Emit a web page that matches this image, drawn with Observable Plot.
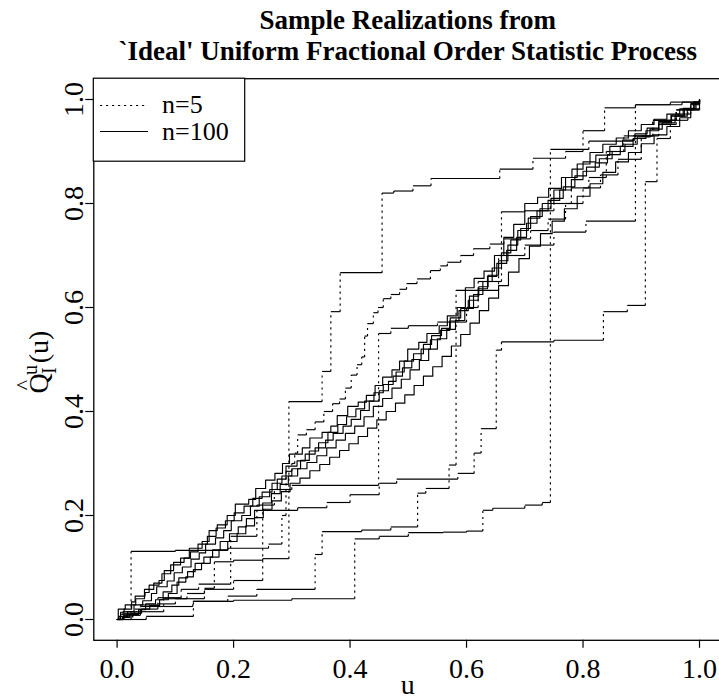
<!DOCTYPE html>
<html><head><meta charset="utf-8">
<script src="https://cdn.jsdelivr.net/npm/d3@7"></script>
<script src="https://cdn.jsdelivr.net/npm/@observablehq/plot@0.6"></script>
<style>body{margin:0;background:#fff} #chart{width:719px;height:700px}</style>
</head><body><div id="chart"></div>
<script>
const xTicks = [0, 0.2, 0.4, 0.6, 0.8, 1.0];
const yTicks = [0, 0.2, 0.4, 0.6, 0.8, 1.0];
const titleLines = ["Sample Realizations from", "`Ideal' Uniform Fractional Order Statistic Process"];
const legendLabels = ["n=5", "n=100"];

// n=5 realizations: [u, value after jump]
const n5A = [[0,0],[0.01,0.012],[0.04,0.025],[0.08,0.04],[0.12,0.05],[0.15,0.06],[0.167,0.111],[0.2,0.114],[0.25,0.117],[0.295,0.419],[0.352,0.477],[0.367,0.592],[0.383,0.667],[0.455,0.82],[0.475,0.824],[0.508,0.834],[0.539,0.848],[0.657,0.866],[0.714,0.887],[0.77,0.9],[0.8,0.94],[0.837,0.984],[0.89,0.99],[0.97,0.995],[1,1]];
const n5B = [[0,0],[0.024,0.131],[0.1,0.133],[0.19,0.137],[0.26,0.145],[0.283,0.2],[0.29,0.285],[0.3,0.3],[0.305,0.32],[0.31,0.355],[0.325,0.365],[0.34,0.38],[0.355,0.4],[0.37,0.415],[0.382,0.424],[0.392,0.445],[0.402,0.47],[0.412,0.49],[0.42,0.505],[0.425,0.545],[0.43,0.569],[0.44,0.59],[0.448,0.6],[0.457,0.617],[0.47,0.625],[0.485,0.635],[0.497,0.646],[0.515,0.655],[0.538,0.671],[0.555,0.68],[0.567,0.687],[0.59,0.7],[0.612,0.713],[0.64,0.722],[0.664,0.732],[0.71,0.748],[0.74,0.77],[0.77,0.8],[0.8,0.83],[0.83,0.855],[0.86,0.885],[0.9,0.93],[0.93,0.952],[0.96,0.972],[0.985,0.99],[1,1]];
const n5C = [[0,0],[0.01,0.015],[0.04,0.028],[0.07,0.042],[0.11,0.058],[0.14,0.068],[0.195,0.16],[0.24,0.22],[0.27,0.25],[0.3,0.258],[0.449,0.55],[0.47,0.56],[0.5,0.565],[0.55,0.572],[0.6,0.6],[0.62,0.65],[0.66,0.7],[0.7,0.72],[0.75,0.745],[0.805,0.766],[0.89,0.99],[0.95,0.995],[1,1]];
const n5D = [[0,0],[0.005,0.01],[0.03,0.02],[0.07,0.03],[0.1,0.04],[0.15,0.058],[0.2,0.075],[0.25,0.21],[0.31,0.215],[0.36,0.225],[0.4,0.24],[0.45,0.262],[0.48,0.27],[0.585,0.281],[0.613,0.32],[0.625,0.367],[0.651,0.518],[0.66,0.534],[0.75,0.537],[0.835,0.592],[0.876,0.604],[0.907,0.842],[0.927,0.925],[0.95,0.96],[0.98,0.98],[1,1]];
const n5E = [[0,0],[0.01,0.008],[0.04,0.015],[0.08,0.025],[0.13,0.035],[0.19,0.045],[0.24,0.058],[0.34,0.125],[0.352,0.169],[0.42,0.172],[0.47,0.178],[0.516,0.243],[0.53,0.252],[0.57,0.297],[0.582,0.633],[0.655,0.7],[0.66,0.784],[0.7,0.786],[0.75,0.8],[0.78,0.83],[0.81,0.85],[0.84,0.9],[0.87,0.93],[0.92,0.96],[0.96,0.98],[1,1]];
const n5F = [[0,0],[0.05,0.006],[0.131,0.035],[0.2,0.037],[0.3,0.04],[0.408,0.155],[0.45,0.16],[0.5,0.167],[0.56,0.168],[0.6,0.17],[0.628,0.21],[0.645,0.214],[0.7,0.22],[0.73,0.225],[0.744,0.904],[0.81,0.92],[0.886,0.93],[0.92,0.96],[0.96,0.98],[0.99,0.995],[1,1]];

// n=100 realizations
const n100A = [[0,0],[0.006,0.014],[0.012,0.02],[0.025,0.034],[0.031,0.045],[0.048,0.052],[0.055,0.066],[0.072,0.075],[0.081,0.094],[0.097,0.11],[0.115,0.118],[0.124,0.137],[0.146,0.15],[0.158,0.171],[0.172,0.182],[0.189,0.2],[0.203,0.222],[0.226,0.231],[0.238,0.252],[0.255,0.268],[0.271,0.281],[0.284,0.3],[0.296,0.318],[0.318,0.33],[0.331,0.349],[0.352,0.36],[0.367,0.372],[0.378,0.392],[0.396,0.41],[0.414,0.418],[0.428,0.431],[0.443,0.45],[0.456,0.466],[0.472,0.48],[0.485,0.497],[0.499,0.52],[0.518,0.533],[0.532,0.55],[0.553,0.565],[0.567,0.584],[0.584,0.6],[0.598,0.638],[0.613,0.656],[0.63,0.67],[0.648,0.7],[0.664,0.735],[0.681,0.76],[0.7,0.8],[0.722,0.812],[0.741,0.829],[0.763,0.85],[0.781,0.866],[0.8,0.88],[0.822,0.893],[0.846,0.91],[0.868,0.922],[0.889,0.934],[0.91,0.945],[0.93,0.958],[0.951,0.97],[0.972,0.983],[0.99,0.995],[1,1]];
const n100B = [[0,0],[0.003,0.006],[0.018,0.015],[0.029,0.028],[0.044,0.036],[0.059,0.05],[0.068,0.063],[0.086,0.074],[0.098,0.09],[0.112,0.101],[0.127,0.116],[0.141,0.128],[0.152,0.145],[0.169,0.157],[0.183,0.171],[0.196,0.19],[0.214,0.2],[0.229,0.218],[0.244,0.236],[0.262,0.25],[0.275,0.27],[0.29,0.295],[0.309,0.305],[0.323,0.318],[0.34,0.33],[0.358,0.345],[0.371,0.358],[0.388,0.372],[0.402,0.385],[0.418,0.402],[0.433,0.42],[0.45,0.44],[0.466,0.458],[0.479,0.476],[0.493,0.497],[0.509,0.511],[0.526,0.529],[0.54,0.546],[0.557,0.56],[0.572,0.58],[0.59,0.598],[0.605,0.622],[0.621,0.64],[0.637,0.662],[0.655,0.69],[0.671,0.72],[0.688,0.748],[0.706,0.772],[0.726,0.79],[0.745,0.81],[0.766,0.832],[0.786,0.853],[0.806,0.87],[0.828,0.886],[0.85,0.9],[0.872,0.914],[0.893,0.928],[0.915,0.943],[0.936,0.955],[0.958,0.968],[0.979,0.982],[0.994,0.994],[1,1]];
const n100C = [[0,0],[0.009,0.004],[0.021,0.01],[0.037,0.019],[0.049,0.03],[0.066,0.038],[0.079,0.053],[0.094,0.066],[0.106,0.08],[0.121,0.092],[0.134,0.108],[0.149,0.12],[0.164,0.134],[0.177,0.15],[0.193,0.165],[0.208,0.178],[0.222,0.194],[0.236,0.21],[0.25,0.224],[0.265,0.242],[0.28,0.26],[0.294,0.276],[0.31,0.29],[0.326,0.302],[0.343,0.315],[0.36,0.33],[0.376,0.345],[0.392,0.358],[0.408,0.372],[0.424,0.39],[0.44,0.41],[0.456,0.425],[0.472,0.445],[0.488,0.462],[0.503,0.48],[0.519,0.498],[0.535,0.52],[0.55,0.54],[0.566,0.558],[0.581,0.575],[0.597,0.598],[0.612,0.625],[0.628,0.65],[0.644,0.676],[0.66,0.705],[0.676,0.73],[0.693,0.752],[0.71,0.775],[0.73,0.8],[0.75,0.826],[0.77,0.85],[0.79,0.876],[0.812,0.898],[0.834,0.914],[0.857,0.926],[0.878,0.94],[0.9,0.952],[0.922,0.962],[0.944,0.972],[0.966,0.982],[0.985,0.992],[1,1]];
const n100D = [[0,0],[0.012,0.005],[0.027,0.012],[0.042,0.02],[0.056,0.027],[0.073,0.038],[0.088,0.05],[0.103,0.072],[0.118,0.082],[0.131,0.096],[0.145,0.108],[0.16,0.12],[0.175,0.134],[0.19,0.15],[0.206,0.165],[0.221,0.18],[0.236,0.196],[0.251,0.212],[0.266,0.228],[0.282,0.246],[0.297,0.262],[0.314,0.272],[0.331,0.286],[0.348,0.298],[0.365,0.312],[0.382,0.325],[0.398,0.338],[0.414,0.352],[0.43,0.368],[0.446,0.384],[0.462,0.4],[0.478,0.416],[0.494,0.432],[0.51,0.45],[0.526,0.468],[0.542,0.486],[0.558,0.506],[0.574,0.526],[0.59,0.548],[0.606,0.57],[0.622,0.594],[0.638,0.618],[0.655,0.642],[0.672,0.668],[0.69,0.694],[0.708,0.718],[0.727,0.742],[0.747,0.766],[0.768,0.79],[0.79,0.814],[0.812,0.838],[0.834,0.86],[0.856,0.88],[0.878,0.898],[0.9,0.915],[0.922,0.932],[0.944,0.948],[0.966,0.965],[0.985,0.982],[1,1]];
const n100E = [[0,0],[0.002,0.02],[0.014,0.028],[0.032,0.04],[0.047,0.058],[0.063,0.07],[0.077,0.088],[0.092,0.105],[0.109,0.118],[0.126,0.13],[0.139,0.145],[0.155,0.16],[0.17,0.176],[0.186,0.19],[0.201,0.205],[0.218,0.218],[0.233,0.233],[0.249,0.245],[0.266,0.262],[0.283,0.276],[0.3,0.29],[0.315,0.306],[0.33,0.324],[0.346,0.34],[0.362,0.36],[0.379,0.375],[0.394,0.39],[0.41,0.405],[0.425,0.42],[0.441,0.436],[0.457,0.452],[0.474,0.468],[0.49,0.484],[0.506,0.5],[0.522,0.52],[0.538,0.538],[0.555,0.556],[0.571,0.574],[0.587,0.594],[0.603,0.614],[0.62,0.636],[0.636,0.66],[0.652,0.685],[0.669,0.71],[0.686,0.735],[0.703,0.762],[0.721,0.786],[0.74,0.806],[0.76,0.826],[0.78,0.846],[0.8,0.862],[0.821,0.878],[0.842,0.894],[0.864,0.91],[0.886,0.925],[0.908,0.94],[0.93,0.955],[0.952,0.968],[0.974,0.982],[0.992,0.994],[1,1]];

const seriesN5 = [n5A, n5B, n5C, n5D, n5E, n5F];
const seriesN100 = [n100A, n100B, n100C, n100D, n100E];

const rows100 = seriesN100.flatMap((s, i) => s.map(([u, q]) => ({id: i, u, q})));
const horiz = [], vert = [];
seriesN5.forEach((s) => {
  for (let k = 0; k < s.length - 1; k++) {
    const [u0, q0] = s[k], [u1, q1] = s[k + 1];
    horiz.push({x1: u0, y1: q0, x2: u1, y2: q0});
    vert.push({x1: u1, y1: q0, x2: u1, y2: q1});
  }
});

const FONT = "'Liberation Serif', 'Times New Roman', Times, serif";
const fmt = d => d.toFixed(1);

const plot = Plot.plot({
  width: 719, height: 700,
  marginLeft: 93.3, marginRight: -3.3, marginTop: 78.2, marginBottom: 60.2,
  x: {domain: [-0.04, 1.04]},
  y: {domain: [-0.04, 1.04]},
  style: {fontFamily: FONT, background: "white", overflow: "visible", color: "black"},
  marks: [
    Plot.line(rows100, {x: "u", y: "q", z: "id", curve: "step-after", stroke: "#000", strokeWidth: 1.15}),
    Plot.link(horiz, {x1: "x1", y1: "y1", x2: "x2", y2: "y2", stroke: "#000", strokeWidth: 1.15}),
    Plot.link(vert, {x1: "x1", y1: "y1", x2: "x2", y2: "y2", stroke: "#000", strokeWidth: 1.15, strokeDasharray: "2.2,3.8"}),
    Plot.frame({stroke: "#000", strokeWidth: 1.3}),
    Plot.axisX(xTicks, {tickSize: 8, tickPadding: 10, fontSize: 28, tickFormat: fmt, label: null, strokeWidth: 1.2}),
    Plot.axisY(yTicks, {tickSize: 8, tickPadding: 3, tickRotate: -90, fontSize: 28, tickFormat: fmt, label: null, strokeWidth: 1.2})
  ]
});

const svg = d3.select(plot);
const cx = 407.8;
titleLines.forEach((t, i) => {
  svg.append("text").attr("x", cx).attr("y", 29 + i * 31).attr("text-anchor", "middle")
    .attr("font-family", FONT).attr("font-weight", "bold").attr("font-size", 27).attr("fill", "#000").text(t);
});
svg.append("text").attr("x", cx).attr("y", 694).attr("text-anchor", "middle")
  .attr("font-family", FONT).attr("font-size", 28).attr("fill", "#000").text("u");

// y axis title: hat Q, subscript I, superscript u, (u)
const yt = svg.append("text").attr("transform", "translate(48,362) rotate(-90)").attr("text-anchor", "middle")
  .attr("font-family", FONT).attr("font-size", 28).attr("fill", "#000");
yt.append("tspan").text("Q");
yt.append("tspan").attr("dx", -17).attr("dy", -17).attr("font-size", 22).text("^");
yt.append("tspan").attr("dx", 5).attr("dy", 6).attr("font-size", 20).text("u");
yt.append("tspan").attr("dx", -9).attr("dy", 19).attr("font-size", 20).text("I");
yt.append("tspan").attr("dx", 4).attr("dy", -8).text("(u)");

// legend
const lg = svg.append("g");
lg.append("rect").attr("x", 93.3).attr("y", 78.2).attr("width", 151.4).attr("height", 83)
  .attr("fill", "white").attr("stroke", "#000").attr("stroke-width", 1.2);
lg.append("line").attr("x1", 100).attr("x2", 148).attr("y1", 105.5).attr("y2", 105.5)
  .attr("stroke", "#000").attr("stroke-width", 1.2).attr("stroke-dasharray", "2.2,3.8");
lg.append("line").attr("x1", 100).attr("x2", 148).attr("y1", 131.5).attr("y2", 131.5)
  .attr("stroke", "#000").attr("stroke-width", 1.2);
legendLabels.forEach((t, i) => {
  lg.append("text").attr("x", 162).attr("y", 113 + i * 27).attr("text-anchor", "start")
    .attr("font-family", FONT).attr("font-size", 26).attr("fill", "#000").text(t);
});

document.getElementById("chart").appendChild(plot);
</script>
</body></html>
